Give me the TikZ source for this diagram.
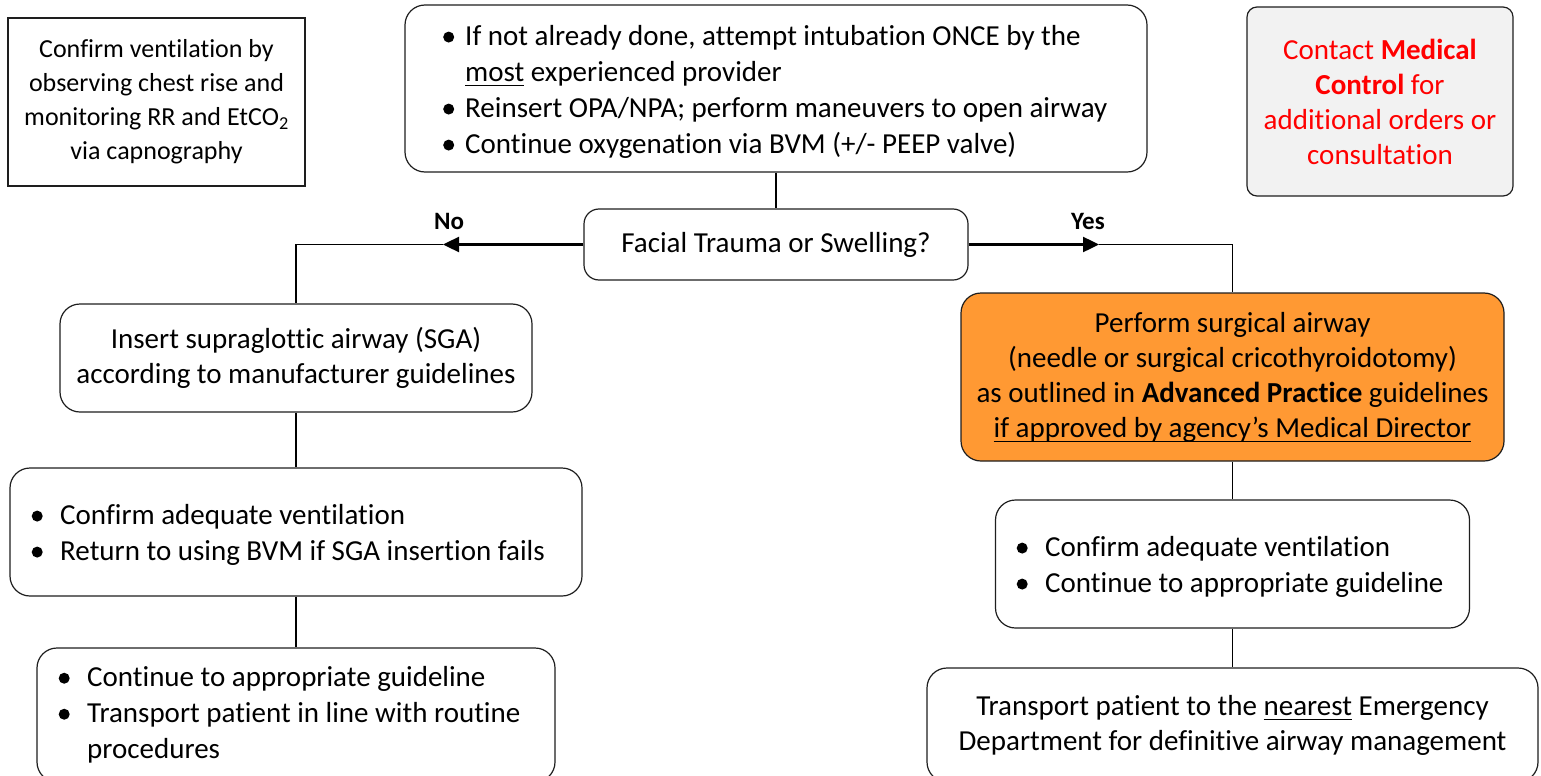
\documentclass[tikz,border=0pt]{standalone}
\usepackage{fontspec}
\setmainfont{Carlito}[Ligatures={NoCommon}]
\usetikzlibrary{arrows.meta}

\definecolor{boxorange}{RGB}{255,153,51}
\definecolor{boxgray}{RGB}{242,242,242}
\definecolor{ctrlred}{RGB}{255,0,0}
\definecolor{edge}{RGB}{30,30,30}

% round list bullet and a bullet column of given width
\newcommand\bdot{\tikz[baseline=0pt,x=1pt,y=1pt]\fill (5.5bp,8.5bp) circle (5.5bp);}
\newcommand\itm[1]{\makebox[#1][l]{\bdot}}
% underline at a fixed distance below the baseline
\newcommand\ulx[1]{\underline{\raisebox{0pt}[\height][2.5bp]{#1}}}

\begin{document}
\begin{tikzpicture}[x=1bp,y=-1bp,
  box/.style={draw=edge, line width=1.2bp, rounded corners=20bp, fill=white,
    align=center, inner sep=0pt, font=\fontsize{29bp}{35bp}\selectfont},
  plainbox/.style={draw=edge, line width=1.2bp, fill=white, align=center, inner sep=0pt},
  txt/.style={align=left, inner sep=0pt, font=\fontsize{29bp}{36bp}\selectfont},
  conn/.style={draw=black, line width=1.6bp},
  arrowline/.style={draw=black, line width=2.4bp, -{Triangle[length=16bp,width=15bp]}},
  lbl/.style={inner sep=0pt, font=\bfseries\fontsize{25bp}{28bp}\selectfont}]

\useasboundingbox (0,0) rectangle (1541,775);
\clip (0,0) rectangle (1541,775);

% side notes
\node[plainbox, minimum width=297bp, minimum height=168bp,
      font=\fontsize{26bp}{34bp}\selectfont] (note) at (156.5,102)
  {Confirm ventilation by\\observing chest rise and\\monitoring RR and EtCO\textsubscript{2}\\via capnography};
\node[box, rounded corners=10bp, fill=boxgray, text=ctrlred,
      minimum width=266bp, minimum height=189bp] (medctl) at (1380,101.5)
  {Contact \textbf{Medical}\\\textbf{Control} for\\additional orders or\\consultation};

% first step
\node[box, minimum width=742bp, minimum height=167bp] (intub) at (776,88.5) {};
\node[txt, anchor=west] (intubTxt) at (443,92)
  {\itm{22bp}If not already done, attempt intubation ONCE by the\\
   \hspace*{22bp}\ulx{most} experienced provider\\
   \itm{22bp}Reinsert OPA/NPA; perform maneuvers to open airway\\
   \itm{22bp}Continue oxygenation via BVM (+/- PEEP valve)};

% decision
\node[box, rounded corners=15bp, minimum width=384bp, minimum height=71bp] (dec) at (776,244.5)
  {Facial Trauma or Swelling?};

% "No" branch
\node[box, minimum width=472bp, minimum height=108bp] (sga) at (296,358)
  {Insert supraglottic airway (SGA)\\according to manufacturer guidelines};
\node[box, minimum width=572bp, minimum height=128bp] (lconf) at (296,532) {};
\node[txt, anchor=west] (lconfTxt) at (31.5,535)
  {\itm{28.5bp}Confirm adequate ventilation\\
   \itm{28.5bp}Return to using BVM if SGA insertion fails};
\node[box, minimum width=518bp, minimum height=134bp] (lcont) at (296,715) {};
\node[txt, anchor=west] (lcontTxt) at (58.5,715)
  {\itm{28.5bp}Continue to appropriate guideline\\
   \itm{28.5bp}Transport patient in line with routine\\
   \hspace*{28.5bp}procedures};

% "Yes" branch
\node[box, fill=boxorange, minimum width=543bp, minimum height=168bp] (surg) at (1232.5,377)
  {Perform surgical airway\\(needle or surgical cricothyroidotomy)\\
   as outlined in \textbf{Advanced Practice} guidelines\\
   \ulx{if approved by agency’s Medical Director}};
\node[box, minimum width=474bp, minimum height=128bp] (rconf) at (1232.5,564) {};
\node[txt, anchor=west] (rconfTxt) at (1016.5,567)
  {\itm{28.5bp}Confirm adequate ventilation\\
   \itm{28.5bp}Continue to appropriate guideline};
\node[box, minimum width=611bp, minimum height=114bp] (trans) at (1232.5,725)
  {Transport patient to the \ulx{nearest} Emergency\\Department for definitive airway management};

% connectors
\coordinate (noMid) at (443,244.5);
\coordinate (noTurn) at (296,244.5);
\coordinate (yesMid) at (1099,244.5);
\coordinate (yesTurn) at (1232.5,244.5);

\draw[conn] (intub.south) -- (dec.north);
\draw[conn] (noMid) -- (noTurn) -- (sga.north);
\draw[arrowline] (dec.west) -- (noMid);
\draw[conn] (yesMid) -- (yesTurn) -- (surg.north);
\draw[arrowline] (dec.east) -- (yesMid);
\draw[conn] (sga.south) -- (lconf.north);
\draw[conn] (lconf.south) -- (lcont.north);
\draw[conn] (surg.south) -- (rconf.north);
\draw[conn] (rconf.south) -- (trans.north);

\node[lbl] (noLbl) at (449,221) {No};
\node[lbl] (yesLbl) at (1088,221) {Yes};
\end{tikzpicture}
\end{document}
